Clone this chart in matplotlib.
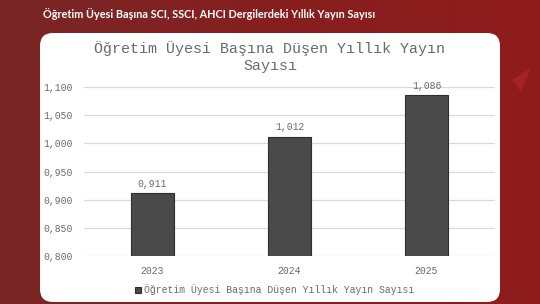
import numpy as np
import matplotlib.pyplot as plt
from matplotlib.patches import FancyBboxPatch, Polygon
from matplotlib.colors import LinearSegmentedColormap

years = ['2023', '2024', '2025']
values = [0.911, 1.012, 1.086]
yticks = [0.800, 0.850, 0.900, 0.950, 1.000, 1.050, 1.100]
page_title = 'Öğretim Üyesi Başına SCI, SSCI, AHCI Dergilerdeki Yıllık Yayın Sayısı'
chart_title = 'Öğretim Üyesi Başına Düşen Yıllık Yayın\nSayısı'
series_name = 'Öğretim Üyesi Başına Düşen Yıllık Yayın Sayısı'

def tr(v):
    return f'{v:.3f}'.replace('.', ',')

mono = 'Liberation Mono'
grey = '#6a6a6a'
bar_col = '#4a4a4a'

fig = plt.figure(figsize=(5.4, 3.04), dpi=100)

# red background + white panel, drawn in pixel units
bg = fig.add_axes([0, 0, 1, 1])
bg.set_xlim(0, 540)
bg.set_ylim(304, 0)
bg.axis('off')
grad = np.linspace(0, 1, 256).reshape(1, -1)
cmap = LinearSegmentedColormap.from_list('bg', ['#7a2626', '#861f1f', '#901c1c'])
bg.imshow(grad, cmap=cmap, extent=[0, 540, 304, 0], aspect='auto', zorder=0)
bg.add_patch(Polygon([[512, 80], [531, 68], [521, 92]], closed=True,
                     facecolor='#b8232b', edgecolor='none', alpha=0.6, zorder=1))
bg.add_patch(FancyBboxPatch((40, 33), 460, 269, boxstyle='round,pad=0,rounding_size=13',
                            facecolor='white', edgecolor='none', zorder=2))
bg.text(43, 14, page_title, color='white', fontsize=7.8, fontweight='bold',
        family='Lato', va='center', ha='left', zorder=3)

ax = fig.add_axes([84 / 540, 1 - 256 / 304, 411 / 540, 169 / 304])
ax.set_facecolor('none')
x = np.arange(len(years))
bars = ax.bar(x, values, width=0.31, color=bar_col, edgecolor='#2e2e2e',
              linewidth=0.8, zorder=3, label=series_name)
ax.bar_label(bars, labels=[tr(v) for v in values], padding=3,
             fontsize=7, color=grey, family=mono)
ax.set_ylim(0.8, 1.1)
ax.set_xlim(-0.5, 2.5)
ax.set_yticks(yticks)
ax.set_yticklabels([tr(v) for v in yticks], family=mono, fontsize=7, color=grey)
ax.set_xticks(x)
ax.set_xticklabels(years, family=mono, fontsize=7, color=grey)
ax.tick_params(length=0, pad=8)
ax.tick_params(axis='x', pad=7)
ax.grid(axis='y', color='#d9d9d9', linewidth=0.9, zorder=0)
for s in ax.spines.values():
    s.set_visible(False)

fig.text(0.5, 1 - 57 / 304, chart_title, ha='center', va='center',
         family=mono, fontsize=10.8, color=grey, linespacing=1.25)

fig.legend(handles=[bars], labels=[series_name], loc='center',
           bbox_to_anchor=(0.508, 1 - 290 / 304), frameon=False,
           prop={'family': mono, 'size': 7}, labelcolor=grey,
           handlelength=0.6, handleheight=0.6, handletextpad=0.3)

fig.savefig('out.png', dpi=100)
